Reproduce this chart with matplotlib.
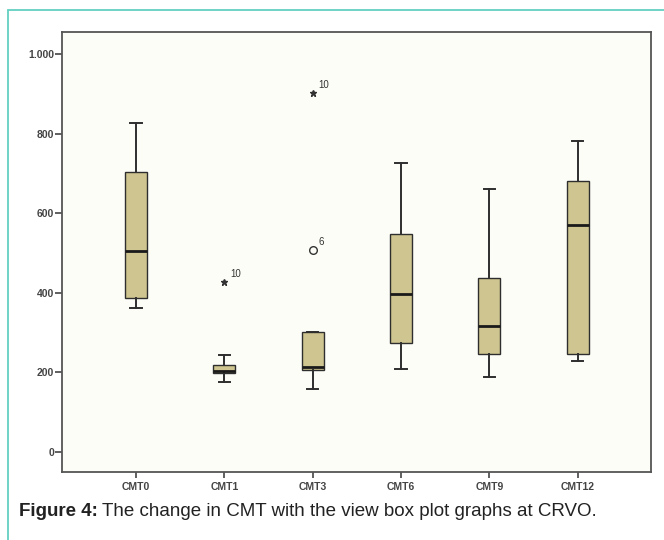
import matplotlib.pyplot as plt
from matplotlib.patches import Rectangle

# box plot summary values
groups = ['CMT0', 'CMT1', 'CMT3', 'CMT6', 'CMT9', 'CMT12']
whis_lo = [362, 175, 158, 207, 189, 229]
q1 = [386, 197, 205, 273, 246, 246]
medians = [505, 204, 214, 396, 316, 570]
q3 = [703, 219, 301, 549, 436, 682]
whis_hi = [826, 243, 301, 727, 661, 781]

# outliers: (group index, value, label)
star_outliers = [(1, 428, '10'), (2, 902, '10')]
circle_outliers = [(2, 507, '6')]

y_ticks = [0, 200, 400, 600, 800, 1000]
y_tick_labels = ['0', '200', '400', '600', '800', '1.000']

plt.rcParams['font.family'] = ['Liberation Sans', 'DejaVu Sans']

W, H = 664, 540
fig = plt.figure(figsize=(W / 100, H / 100), dpi=100)
fig.patch.set_facecolor('white')

# teal frame around the figure panel (open on right and bottom)
fig.patches.append(Rectangle((7.5 / W, -0.1), 1.2, 1 - 10 / H + 0.1,
                             transform=fig.transFigure, fill=False,
                             edgecolor='#62d0c2', linewidth=1.3))

left, right, top, bottom = 62.3, 651, 31.7, 472.3
ax = fig.add_axes([left / W, 1 - bottom / H, (right - left) / W, (bottom - top) / H])
ax.set_facecolor('#fdfdf8')

stats = []
for i, name in enumerate(groups):
    stats.append({'label': name, 'whislo': whis_lo[i], 'q1': q1[i], 'med': medians[i],
                  'q3': q3[i], 'whishi': whis_hi[i], 'fliers': []})

edge = '#2e2e2e'
ax.bxp(stats, positions=range(1, len(groups) + 1), widths=0.25, patch_artist=True,
       showfliers=False,
       boxprops=dict(facecolor='#cfc590', edgecolor=edge, linewidth=1.0),
       medianprops=dict(color='#1a1a1a', linewidth=2.0),
       whiskerprops=dict(color=edge, linewidth=1.4),
       capprops=dict(color=edge, linewidth=1.4),
       capwidths=0.13)

for gi, val, lab in star_outliers:
    ax.plot(gi + 1, val, marker='*', color='#333333', markersize=5, linestyle='none')
    ax.annotate(lab, (gi + 1, val), xytext=(4, 3.5), textcoords='offset points',
                fontsize=7, color='#333333')
for gi, val, lab in circle_outliers:
    ax.plot(gi + 1, val, marker='o', markerfacecolor='none', markeredgecolor='#333333',
            markersize=5.5, linestyle='none')
    ax.annotate(lab, (gi + 1, val), xytext=(4, 3.5), textcoords='offset points',
                fontsize=7, color='#333333')

ax.set_xlim(0.165, 6.83)
ax.set_ylim(-52, 1057)
ax.set_yticks(y_ticks)
ax.set_yticklabels(y_tick_labels)
ax.set_xticks(range(1, len(groups) + 1))
ax.set_xticklabels(groups)
ax.tick_params(axis='both', direction='out', width=1.2, color='#444444',
               labelsize=7.5, labelcolor='#444444')
ax.tick_params(axis='y', length=5, pad=1)
ax.tick_params(axis='x', length=4, pad=3)
for lab in ax.get_xticklabels() + ax.get_yticklabels():
    lab.set_fontweight('bold')
for sp in ax.spines.values():
    sp.set_color('#555555')
    sp.set_linewidth(1.3)

# caption with bold lead-in
cap_y = 1 - 512 / H
t1 = fig.text(19 / W, cap_y, 'Figure 4:', fontsize=13.5, fontweight='bold',
              va='center', ha='left', color='#222222')
fig.canvas.draw()
bb = t1.get_window_extent()
x2 = (bb.x1 + 4) / fig.bbox.width
fig.text(x2, cap_y, 'The change in CMT with the view box plot graphs at CRVO.',
         fontsize=13.5, va='center', ha='left', color='#222222')

fig.savefig('out.png', dpi=100)
